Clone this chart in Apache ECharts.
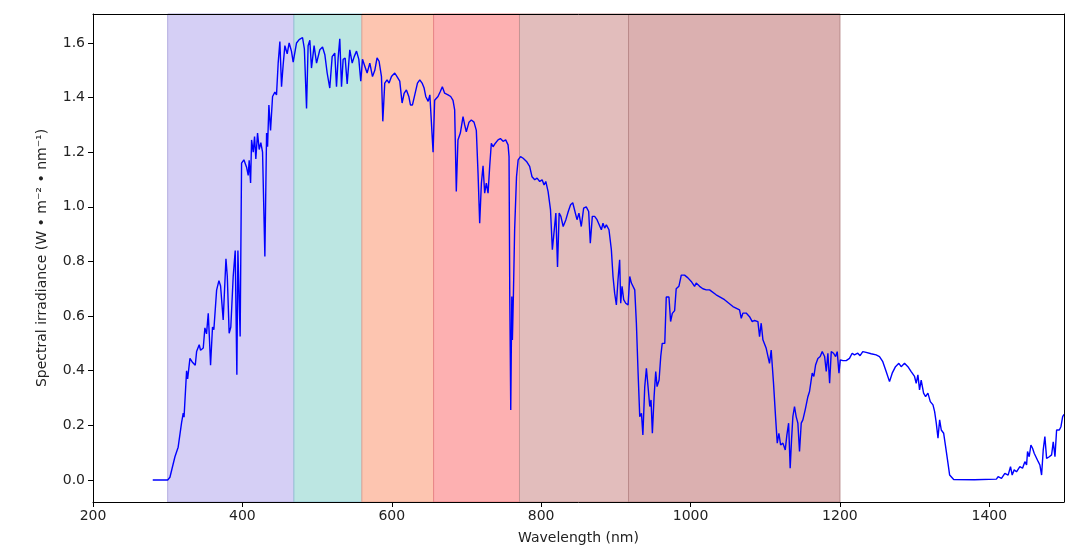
<!DOCTYPE html>
<html>
<head>
<meta charset="utf-8">
<script src="https://cdn.jsdelivr.net/npm/echarts@6/dist/echarts.min.js"></script>
<style>
html,body{margin:0;padding:0;background:#fff;}
#chart{width:1087px;height:553px;}
</style>
</head>
<body>
<div id="chart"></div>
<script>
// Wavelength (nm)
const wavelength = [280,300,303,309.7,314,318.6,320.8,321.9,325.3,326.7,329.8,333.4,336.9,338.7,342.2,344,347.6,349.8,352,354.3,355.7,357.4,360,361.8,365.5,368.6,370.8,374.3,378,379.8,382.3,384.5,387.7,390.4,391.3,392.6,394,395.8,397,398.9,402,405.6,407.8,409.1,411,412.3,414.5,416.3,418,420.3,422.5,424.7,427,430.1,432.4,433.7,435.5,437.7,440.4,443.5,445.7,447.9,450.2,452.4,454.6,456.9,460,462.6,465.7,468,472.5,476,480.5,483,485.9,488,490.3,492.5,496,499.3,503.7,507.3,510.4,513.5,517,520.2,523.7,526,528.2,530.4,532.7,534.9,537.6,540.3,543.8,547,549.7,552.8,555.9,558.5,560.8,563.9,567,570.6,574.2,577.3,580.3,583,586.2,588,590.6,593.7,596.4,599.6,604,607,610.7,613.8,616.5,619.6,622.8,625,627.7,630.8,634.4,637.5,640.6,643.3,645.5,648.7,651,653.2,655.3,657.4,661.9,665,667.7,670.8,675.3,678.9,682,684.2,686.4,688.6,691.8,695.4,697.6,699.8,703.4,706.5,710.1,713.2,715.5,717.7,720,722.2,724.4,726.6,728.9,731.1,733.3,735.6,738.7,742.3,745.4,749,752.5,755.7,757,758,759.3,760.7,761.5,762.9,764.5,767,769.2,772.4,775.9,780.4,784.6,787.8,791.4,794.5,798.1,801.3,803.9,806.2,809.3,812.5,815,817.5,819.7,821.9,824.1,826.4,829.5,833.1,836.3,839.4,842.3,844.8,848,850.6,853.7,856.9,860.4,863.6,865.8,868.5,871.6,874.8,877.4,880.6,882.8,885,887.3,890.8,894,896.2,898.4,900.7,902.9,905.1,906.5,908.3,910.5,913.2,916.4,918.6,920.8,923,925.3,927.5,929.8,932,934.3,936.2,938.7,940.9,943.1,945.4,947.1,948.9,951.2,953.4,955.2,957.9,960.1,962.1,965.5,967.5,971.1,973.3,975.6,978.7,980.8,984.4,987.6,992,996.5,1000.9,1005.4,1007.6,1012.1,1016.5,1021,1025.5,1034.3,1045.5,1056.7,1065.6,1067.9,1070.1,1074.5,1079,1082.6,1085.7,1090.2,1092.4,1094.6,1096.9,1099.1,1101.3,1103.6,1105.7,1108,1109.4,1111.1,1113.8,1116.1,1118.3,1120.6,1123.7,1126.8,1129,1131.3,1133.4,1135.2,1137,1139.2,1141.4,1143.7,1145.9,1148.2,1150.4,1153.5,1157.1,1159.3,1162.9,1165.1,1167.4,1170.5,1173.6,1176.3,1179.5,1181.7,1183.9,1186.2,1188.4,1191.5,1194.2,1196.4,1198.7,1200.5,1204,1208.4,1212.8,1216.4,1219.4,1223.9,1227,1230.6,1235.1,1241.8,1248.5,1253,1257.4,1261.9,1266.4,1270,1274.4,1278.9,1282,1286.5,1291,1295.4,1299.9,1302.1,1304.4,1306.6,1308.8,1312,1314.7,1317.8,1321,1324.6,1326.8,1329,1331.3,1333.5,1335.7,1338.9,1341.5,1344.7,1346.9,1349.1,1352.3,1380,1409.5,1411.8,1416.3,1420.8,1425.2,1428.4,1430.6,1433.3,1436.4,1440.9,1444.5,1447.6,1449.9,1451.2,1453.4,1455.7,1457.9,1460.1,1462.4,1465.5,1467.7,1470,1472.2,1474.4,1476.7,1480.3,1483.4,1485.6,1487.9,1490.1,1493.7,1495.9,1498.2,1500];
// Spectral irradiance (W m-2 nm-1)
const irradiance = [0,0,0.01,0.085,0.12,0.21,0.245,0.23,0.40,0.37,0.445,0.43,0.42,0.47,0.495,0.475,0.483,0.557,0.535,0.61,0.53,0.42,0.56,0.55,0.695,0.73,0.71,0.586,0.81,0.745,0.537,0.56,0.745,0.84,0.65,0.385,0.84,0.845,0.525,1.16,1.172,1.145,1.115,1.17,1.087,1.245,1.20,1.257,1.175,1.27,1.21,1.235,1.2,0.818,1.27,1.22,1.373,1.28,1.404,1.42,1.41,1.526,1.605,1.44,1.52,1.59,1.56,1.60,1.57,1.53,1.60,1.612,1.62,1.578,1.36,1.59,1.61,1.508,1.59,1.526,1.575,1.585,1.557,1.49,1.435,1.55,1.563,1.44,1.545,1.615,1.44,1.54,1.545,1.45,1.575,1.526,1.55,1.57,1.54,1.46,1.54,1.515,1.49,1.526,1.477,1.50,1.545,1.533,1.477,1.313,1.453,1.465,1.453,1.477,1.49,1.477,1.46,1.38,1.415,1.428,1.404,1.373,1.373,1.41,1.453,1.465,1.453,1.435,1.404,1.386,1.41,1.404,1.2,1.39,1.404,1.422,1.44,1.416,1.41,1.404,1.39,1.355,1.056,1.245,1.27,1.33,1.30,1.275,1.31,1.318,1.31,1.28,1.123,0.94,1.087,1.15,1.05,1.087,1.05,1.148,1.233,1.22,1.233,1.245,1.25,1.24,1.245,1.227,1.184,0.672,0.256,0.672,0.513,0.685,0.916,1.11,1.172,1.184,1.178,1.166,1.148,1.11,1.099,1.105,1.093,1.099,1.08,1.093,1.056,0.99,0.843,0.836,0.977,0.78,0.977,0.965,0.928,0.953,0.983,1.008,1.015,1.02,0.953,0.977,0.928,0.995,1.0,0.983,0.867,0.965,0.965,0.953,0.958,0.916,0.94,0.922,0.934,0.916,0.843,0.745,0.684,0.641,0.733,0.806,0.647,0.709,0.66,0.647,0.641,0.745,0.721,0.727,0.696,0.574,0.391,0.232,0.244,0.165,0.342,0.409,0.342,0.269,0.293,0.171,0.305,0.397,0.342,0.366,0.452,0.50,0.50,0.67,0.67,0.58,0.61,0.62,0.70,0.709,0.75,0.75,0.74,0.727,0.709,0.721,0.709,0.70,0.696,0.696,0.678,0.66,0.635,0.623,0.592,0.611,0.611,0.598,0.58,0.584,0.58,0.525,0.574,0.513,0.513,0.482,0.476,0.427,0.476,0.42,0.354,0.232,0.135,0.171,0.128,0.135,0.11,0.165,0.208,0.043,0.146,0.232,0.269,0.232,0.208,0.104,0.208,0.22,0.257,0.305,0.324,0.391,0.379,0.421,0.445,0.452,0.47,0.452,0.397,0.464,0.354,0.47,0.464,0.452,0.47,0.391,0.44,0.437,0.437,0.445,0.464,0.458,0.464,0.455,0.47,0.467,0.462,0.458,0.452,0.433,0.397,0.36,0.391,0.415,0.427,0.415,0.427,0.415,0.397,0.379,0.354,0.385,0.33,0.366,0.318,0.305,0.318,0.287,0.275,0.25,0.208,0.153,0.22,0.183,0.171,0.122,0.061,0.018,0.012,0.002,0.001,0.003,0.012,0.006,0.024,0.018,0.049,0.018,0.037,0.03,0.049,0.043,0.067,0.055,0.104,0.085,0.128,0.116,0.098,0.104,0.067,0.055,0.018,0.11,0.159,0.079,0.085,0.092,0.14,0.085,0.183,0.183,0.195,0.232,0.24];
// Spectral bands (nm)
const bandEdges = [300, 469, 560, 656, 771, 917, 1200];
const bandColors = ['#d5cff5', '#bce6e2', '#fdc5b0', '#fdb0b1', '#e2bdbc', '#dbb0b0'];
const bandBorders = ['#b3addf', '#95c6d6', '#e3a393', '#e88587', '#c49594', '#b98a8a'];
const xTicks = [200, 400, 600, 800, 1000, 1200, 1400];
const yTicks = [0, 0.2, 0.4, 0.6, 0.8, 1.0, 1.2, 1.4, 1.6];

const lineData = wavelength.map((w, i) => [w, irradiance[i]]);
const areas = [];
for (let i = 0; i < bandColors.length; i++) {
  areas.push([
    { xAxis: bandEdges[i], itemStyle: { color: bandColors[i], borderColor: bandBorders[i], borderWidth: 1 } },
    { xAxis: bandEdges[i + 1] }
  ]);
}

const font = 'DejaVu Sans';
const txt = '#222';
const chart = echarts.init(document.getElementById('chart'), null, { renderer: 'canvas' });
chart.setOption({
  animation: false,
  backgroundColor: '#fff',
  grid: { left: 93, right: 23, top: 14, bottom: 51 },
  xAxis: [{
    type: 'value', min: 200, max: 1500, z: 10,
    name: 'Wavelength (nm)', nameLocation: 'middle', nameGap: 29,
    nameTextStyle: { fontFamily: font, fontSize: 14, color: txt },
    axisLine: { show: true, onZero: false, lineStyle: { color: '#000', width: 1 } },
    axisTick: { show: true, length: 5, customValues: xTicks, lineStyle: { color: '#000' } },
    axisLabel: { customValues: xTicks, fontFamily: font, fontSize: 14, color: txt, margin: 7,
      formatter: v => String(v) },
    splitLine: { show: false }
  }, {
    type: 'value', min: 200, max: 1500, position: 'top', z: 10,
    axisLine: { show: true, onZero: false, lineStyle: { color: '#000', width: 1 } },
    axisTick: { show: false }, axisLabel: { show: false }, splitLine: { show: false }
  }],
  yAxis: [{
    type: 'value', min: -0.0806, max: 1.706, z: 10,
    name: 'Spectral irradiance (W • m\u207B\u00B2 • nm\u207B\u00B9)', nameLocation: 'middle', nameGap: 44,
    nameTextStyle: { fontFamily: font, fontSize: 14, color: txt },
    axisLine: { show: true, onZero: false, lineStyle: { color: '#000', width: 1 } },
    axisTick: { show: true, length: 5, customValues: yTicks, lineStyle: { color: '#000' } },
    axisLabel: { customValues: yTicks, fontFamily: font, fontSize: 14, color: txt, margin: 8,
      formatter: v => Number(v).toFixed(1) },
    splitLine: { show: false }
  }, {
    type: 'value', min: -0.0806, max: 1.706, position: 'right', z: 10,
    axisLine: { show: true, onZero: false, lineStyle: { color: '#000', width: 1 } },
    axisTick: { show: false }, axisLabel: { show: false }, splitLine: { show: false }
  }],
  series: [{
    type: 'line', z: 1, data: [], silent: true,
    markArea: { silent: true, data: areas }
  }, {
    type: 'line', z: 5, data: lineData, showSymbol: false, symbol: 'none',
    lineStyle: { color: '#0000ff', width: 1.4 }, itemStyle: { color: '#0000ff' }
  }]
});
</script>
</body>
</html>
